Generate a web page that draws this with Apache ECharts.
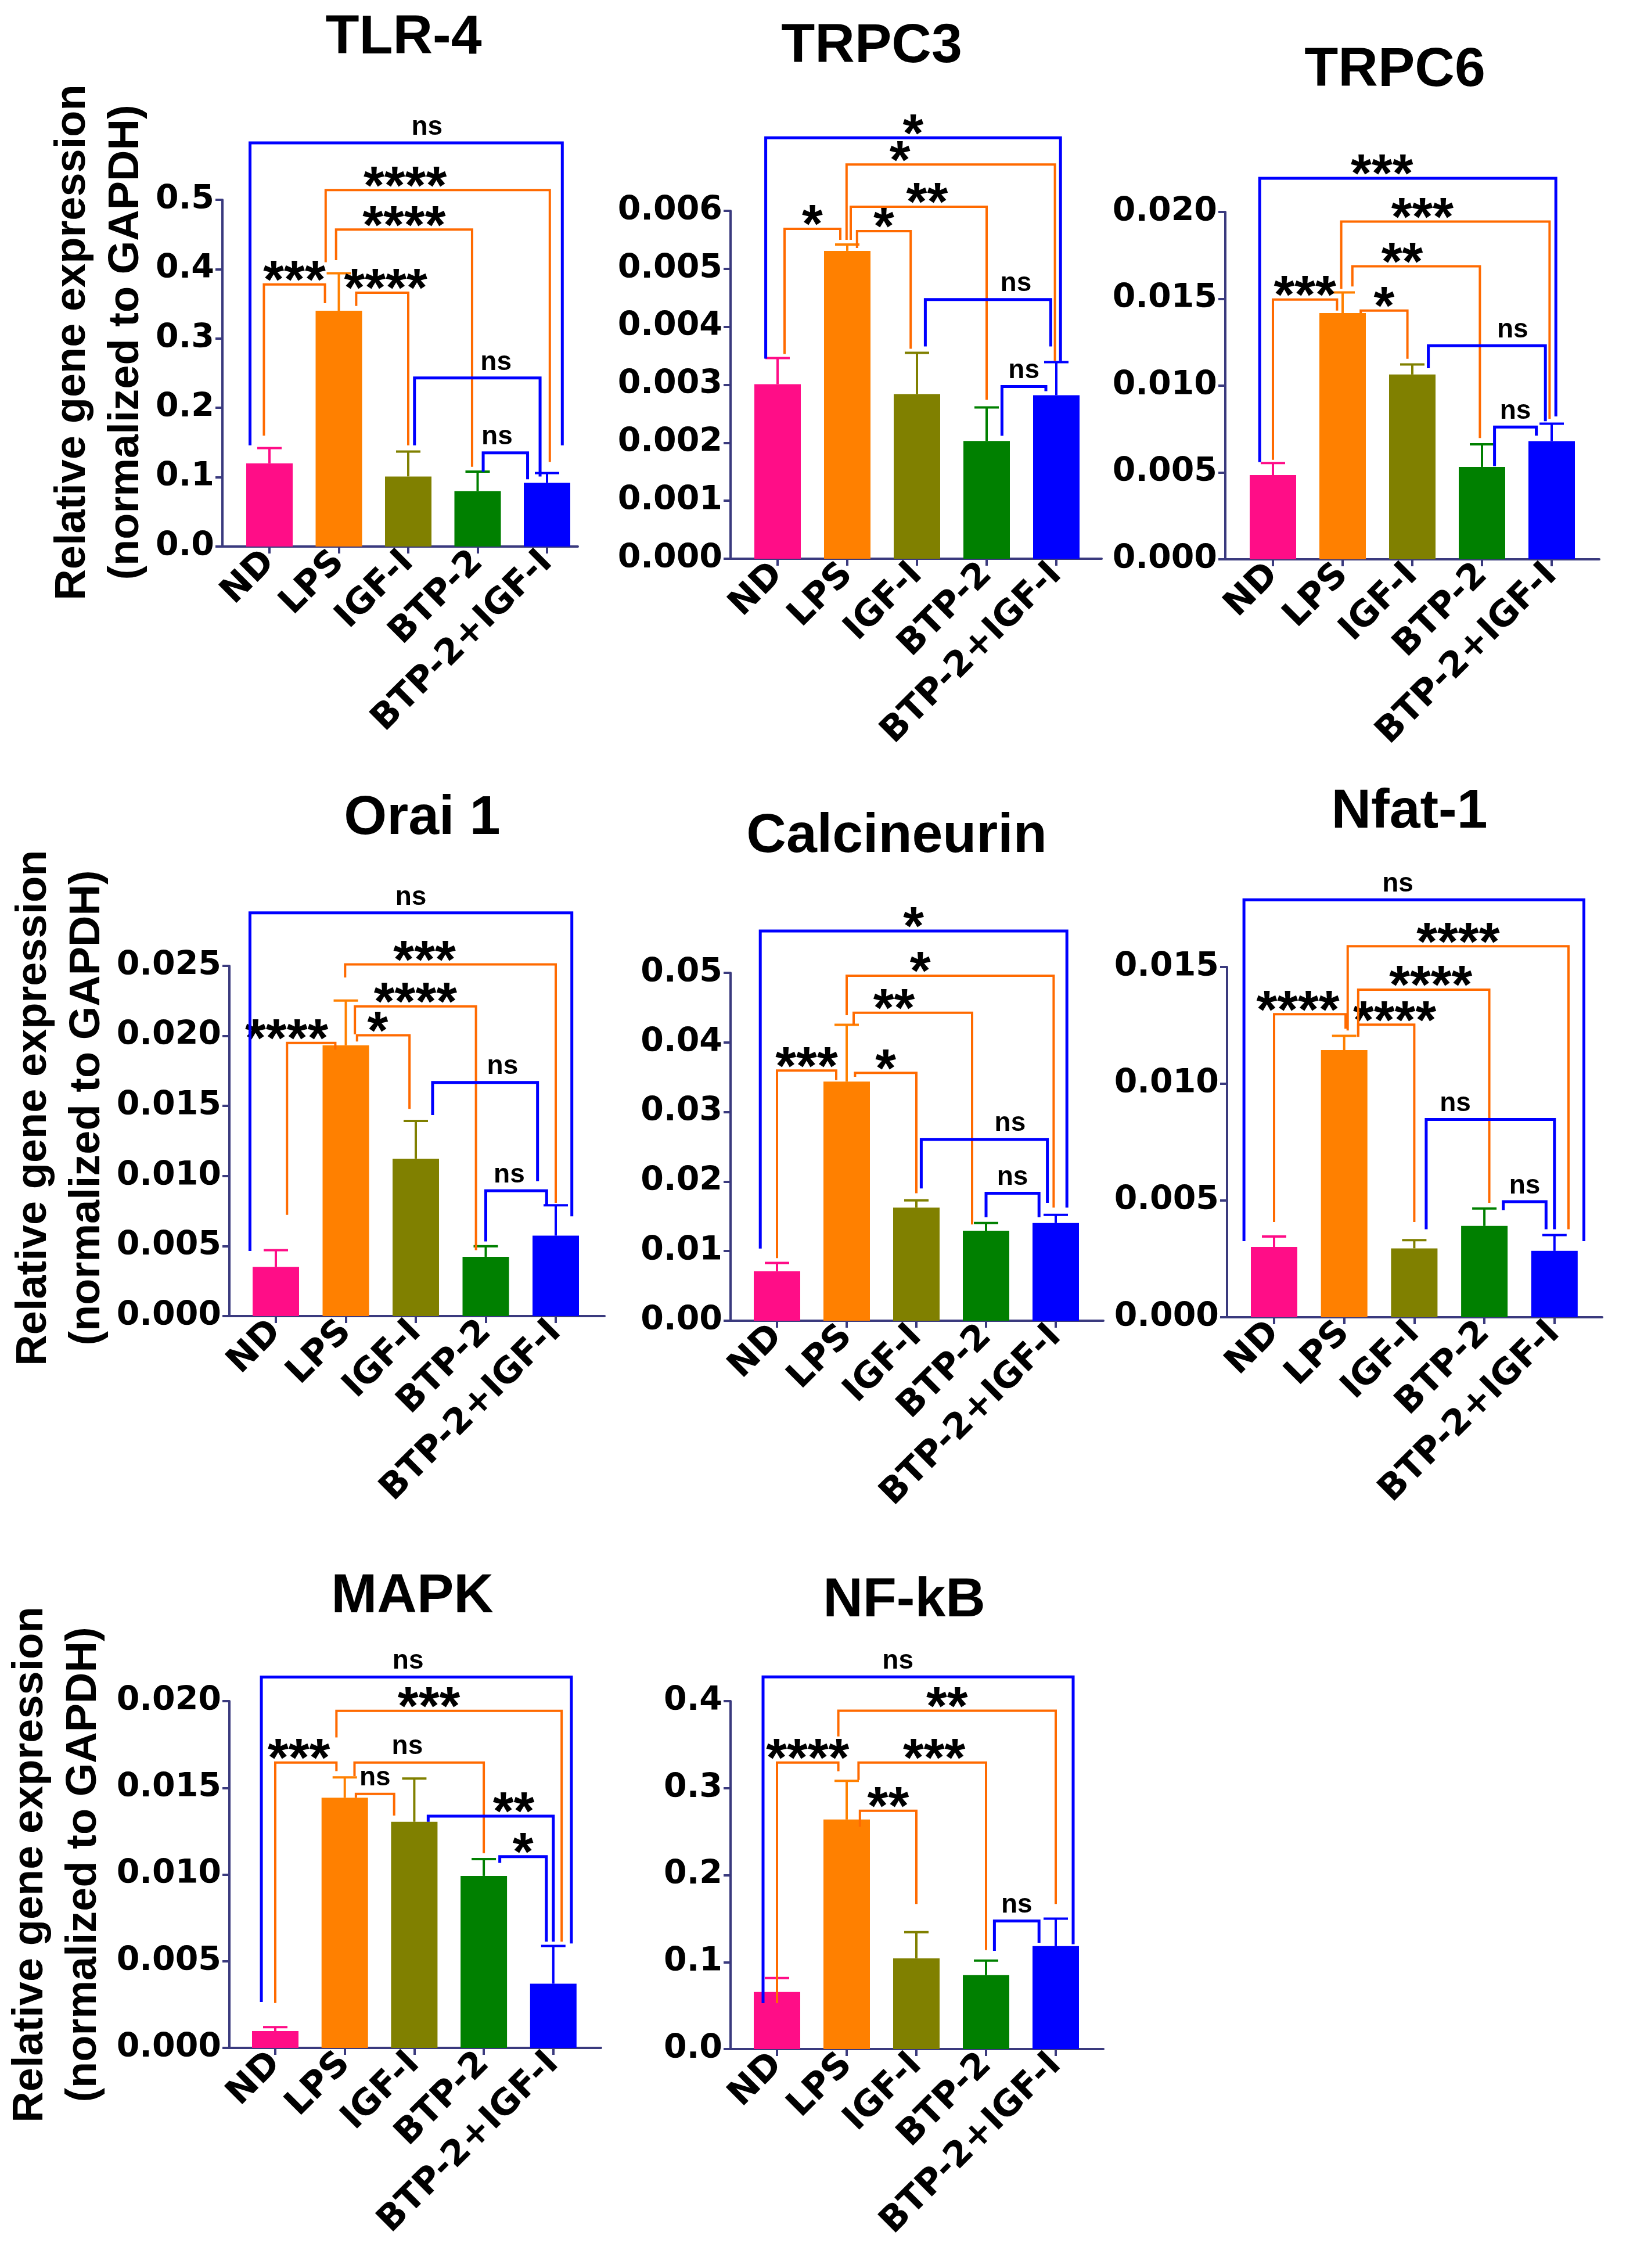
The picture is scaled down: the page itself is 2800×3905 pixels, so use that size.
<!DOCTYPE html>
<html>
<head>
<meta charset="utf-8">
<script src="https://cdn.jsdelivr.net/npm/echarts@6/dist/echarts.min.js"></script>
<style>
  html, body { margin: 0; padding: 0; background: #fff; }
  #chart { width: 2800px; height: 3905px; }
</style>
</head>
<body>
<div id="chart"></div>
<script>
  // groups on the x axis, same for every gene
  var groups = ['ND', 'LPS', 'IGF-I', 'BTP-2', 'BTP-2+IGF-I'];

  // mean and SEM
  var tlr4Mean = [0.120, 0.340, 0.101, 0.080, 0.092];
  var tlr4Sem = [0.022, 0.054, 0.036, 0.028, 0.014];
  var trpc3Mean = [0.00301, 0.00531, 0.00284, 0.00203, 0.00282];
  var trpc3Sem = [0.00045, 0.00011, 0.00071, 0.00058, 0.00057];
  var trpc6Mean = [0.00485, 0.01418, 0.01064, 0.00532, 0.00681];
  var trpc6Sem = [0.00069, 0.00119, 0.00058, 0.00130, 0.00100];
  var orai1Mean = [0.00351, 0.01933, 0.01124, 0.00423, 0.00574];
  var orai1Sem = [0.00120, 0.00319, 0.00269, 0.00076, 0.00217];
  var calcMean = [0.00712, 0.03437, 0.01625, 0.01293, 0.01404];
  var calcSem = [0.00118, 0.00816, 0.00104, 0.00111, 0.00117];
  var nfatMean = [0.00301, 0.01144, 0.00295, 0.00391, 0.00284];
  var nfatSem = [0.00045, 0.00061, 0.00035, 0.00075, 0.00068];
  var mapkMean = [0.00097, 0.01443, 0.01304, 0.00992, 0.00370];
  var mapkSem = [0.00023, 0.00117, 0.00250, 0.00097, 0.00218];
  var nfkbMean = [0.0656, 0.2639, 0.1044, 0.0850, 0.1183];
  var nfkbSem = [0.0161, 0.0444, 0.0300, 0.0167, 0.0317];

  // significance brackets:
  // [groupA, groupB, legShiftA, legShiftB, level, legEndA, legEndB, label, labelShift]
  var tlr4Brackets = [
    [0, 1, -0.08, -0.20, 0.378, 0.160, 0.351, '***', 0],
    [1, 2, 0.25, 0.00, 0.366, 0.347, 0.146, '****', 0.05],
    [1, 3, -0.04, -0.08, 0.457, 0.413, 0.115, '****', 0],
    [1, 4, -0.19, 0.04, 0.514, 0.410, 0.122, '****', -0.47],
    [0, 4, -0.28, 0.22, 0.582, 0.146, 0.146, 'ns', 0.3],
    [2, 4, 0.09, -0.10, 0.243, 0.146, 0.101, 'ns', 0.27],
    [3, 4, 0.08, -0.28, 0.135, 0.108, 0.097, 'ns', -0.12]
  ];
  var trpc3Brackets = [
    [0, 1, 0.10, -0.10, 0.00569, 0.00353, 0.00550, '*', 0],
    [1, 2, 0.14, -0.09, 0.00565, 0.00536, 0.00362, '*', 0],
    [1, 3, 0.05, 0.00, 0.00607, 0.00550, 0.00274, '**', 0.12],
    [1, 4, -0.01, -0.02, 0.00680, 0.00550, 0.00341, '*', -0.73],
    [0, 4, -0.17, 0.06, 0.00726, 0.00345, 0.00341, '*', 0],
    [2, 4, 0.12, -0.08, 0.00447, 0.00366, 0.00366, 'ns', 0.4],
    [3, 4, 0.22, -0.15, 0.00297, 0.00212, 0.00289, 'ns', 0]
  ];
  var trpc6Brackets = [
    [0, 1, 0.00, -0.08, 0.01496, 0.00573, 0.01432, '***', 0],
    [1, 2, 0.26, -0.07, 0.01432, 0.01418, 0.01155, '*', 0],
    [1, 3, 0.14, -0.03, 0.01687, 0.01571, 0.00698, '**', -0.2],
    [1, 4, -0.02, -0.03, 0.01945, 0.01557, 0.00809, '***', -0.33],
    [0, 4, -0.19, 0.06, 0.02194, 0.00560, 0.00823, '***', -0.37],
    [2, 4, 0.23, -0.09, 0.01230, 0.01100, 0.00795, 'ns', 0.37],
    [3, 4, 0.18, -0.22, 0.00762, 0.00537, 0.00712, 'ns', 0]
  ];
  var orai1Brackets = [
    [0, 1, 0.16, -0.15, 0.01950, 0.00722, 0.01902, '****', -0.35],
    [1, 2, 0.16, -0.09, 0.02005, 0.01960, 0.01479, '*', -0.08],
    [1, 3, 0.13, -0.14, 0.02211, 0.02012, 0.00471, '****', 0],
    [1, 4, -0.01, 0.00, 0.02510, 0.02417, 0.00808, '***', -0.37],
    [0, 4, -0.37, 0.23, 0.02878, 0.00464, 0.00712, 'ns', 0],
    [2, 4, 0.24, -0.26, 0.01668, 0.01434, 0.00963, 'ns', 0.25],
    [3, 4, 0.00, -0.13, 0.00894, 0.00533, 0.00791, 'ns', -0.1]
  ];
  var calcBrackets = [
    [0, 1, 0.00, -0.15, 0.03596, 0.00900, 0.03458, '***', 0],
    [1, 2, 0.12, 0.00, 0.03562, 0.03506, 0.01833, '*', 0],
    [1, 3, 0.10, -0.20, 0.04426, 0.04253, 0.01383, '**', -0.27],
    [1, 4, 0.00, -0.03, 0.04959, 0.04391, 0.01625, '*', -0.43],
    [0, 4, -0.24, 0.16, 0.05602, 0.01037, 0.01625, '*', 0],
    [2, 4, 0.07, -0.12, 0.02607, 0.01902, 0.01694, 'ns', 0.37],
    [3, 4, 0.00, -0.24, 0.01833, 0.01487, 0.01487, 'ns', 0]
  ];
  var nfatBrackets = [
    [0, 1, 0.00, 0.02, 0.01298, 0.00408, 0.01236, '****', -0.17],
    [1, 2, 0.20, 0.00, 0.01253, 0.01201, 0.00408, '****', 0.12],
    [1, 3, 0.20, 0.07, 0.01403, 0.01212, 0.00490, '****', 0.1],
    [1, 4, 0.05, 0.20, 0.01589, 0.01228, 0.00377, '****', 0],
    [0, 4, -0.43, 0.42, 0.01788, 0.00326, 0.00326, 'ns', -0.23],
    [2, 4, 0.17, 0.00, 0.00847, 0.00377, 0.00377, 'ns', -0.5],
    [3, 4, 0.27, -0.12, 0.00495, 0.00459, 0.00377, 'ns', 0]
  ];
  var mapkBrackets = [
    [0, 1, 0.00, -0.12, 0.01646, 0.00259, 0.01596, '***', -0.1],
    [1, 2, 0.16, -0.29, 0.01465, 0.01443, 0.01340, 'ns', 0],
    [1, 3, 0.14, 0.00, 0.01646, 0.01568, 0.01123, 'ns', -0.17],
    [1, 4, -0.12, 0.12, 0.01944, 0.01791, 0.00613, '***', -0.29],
    [0, 4, -0.20, 0.26, 0.02139, 0.00265, 0.00602, 'ns', -0.12],
    [2, 4, 0.20, 0.00, 0.01337, 0.01304, 0.00613, '**', 0.33],
    [3, 4, 0.23, -0.10, 0.01103, 0.01067, 0.00613, '*', 0]
  ];
  var nfkbBrackets = [
    [0, 1, 0.00, -0.12, 0.3294, 0.0528, 0.3194, '****', 0],
    [1, 2, 0.19, 0.00, 0.2739, 0.2556, 0.1667, '**', 0],
    [1, 3, 0.17, 0.00, 0.3294, 0.3094, 0.1139, '***', 0.17],
    [1, 4, -0.12, 0.00, 0.3889, 0.3594, 0.1667, '**', 0],
    [0, 4, -0.20, 0.25, 0.4278, 0.0528, 0.1206, 'ns', -0.29],
    [3, 4, 0.12, -0.24, 0.1472, 0.1128, 0.1222, 'ns', 0]
  ];

  var groupColors = ['#ff0d87', '#ff8000', '#808000', '#008000', '#0000ff'];
  var axisColor = '#3a3a7e';
  var lpsLine = '#ff6a00';
  var otherLine = '#0000ff';
  var yTitle = 'Relative gene expression\n(normalized to GAPDH)';

  // panel layout in page pixels: y axis x, top (= yMax), bottom (= 0), first bar centre, bar pitch, x axis end
  var panels = [
    {name: 'TLR-4', mean: tlr4Mean, sem: tlr4Sem, br: tlr4Brackets, yMax: 0.5, yStep: 0.1, dec: 1,
      ax: 383, top: 344, bottom: 941, c0: 464, pitch: 119.5, end: 995, tx: 695, ty: 68, gap: 119, shift: 106},
    {name: 'TRPC3', mean: trpc3Mean, sem: trpc3Sem, br: trpc3Brackets, yMax: 0.006, yStep: 0.001, dec: 3,
      ax: 1258, top: 363, bottom: 962, c0: 1339, pitch: 120, end: 1897, tx: 1501, ty: 83},
    {name: 'TRPC6', mean: trpc6Mean, sem: trpc6Sem, br: trpc6Brackets, yMax: 0.02, yStep: 0.005, dec: 3,
      ax: 2110, top: 365, bottom: 963, c0: 2192, pitch: 120, end: 2754, tx: 2402, ty: 124},
    {name: 'Orai 1', mean: orai1Mean, sem: orai1Sem, br: orai1Brackets, yMax: 0.025, yStep: 0.005, dec: 3,
      ax: 395, top: 1663, bottom: 2266, c0: 475, pitch: 120.5, end: 1041, tx: 727, ty: 1412, gap: 194, shift: 114},
    {name: 'Calcineurin', mean: calcMean, sem: calcSem, br: calcBrackets, yMax: 0.05, yStep: 0.01, dec: 2,
      ax: 1258, top: 1675, bottom: 2274, c0: 1338, pitch: 120, end: 1900, tx: 1544, ty: 1443},
    {name: 'Nfat-1', mean: nfatMean, sem: nfatSem, br: nfatBrackets, yMax: 0.015, yStep: 0.005, dec: 3,
      ax: 2113, top: 1665, bottom: 2268, c0: 2194, pitch: 120.7, end: 2759, tx: 2427, ty: 1401},
    {name: 'MAPK', mean: mapkMean, sem: mapkSem, br: mapkBrackets, yMax: 0.02, yStep: 0.005, dec: 3,
      ax: 395, top: 2929, bottom: 3526, c0: 474, pitch: 119.7, end: 1035, tx: 710, ty: 2752, gap: 204, shift: 34},
    {name: 'NF-kB', mean: nfkbMean, sem: nfkbSem, br: nfkbBrackets, yMax: 0.4, yStep: 0.1, dec: 1,
      ax: 1258, top: 2929, bottom: 3528, c0: 1338, pitch: 120, end: 1900, tx: 1557, ty: 2759}
  ];

  var chart = echarts.init(document.getElementById('chart'));
  var option = {
    animation: false,
    backgroundColor: '#ffffff',
    title: [], grid: [], xAxis: [], yAxis: [], series: []
  };

  panels.forEach(function (p, k) {
    option.title.push({
      text: p.name, left: p.tx, top: p.ty - 50, textAlign: 'center', padding: 0,
      textStyle: {fontFamily: 'Liberation Sans', fontWeight: 'bold', fontSize: 95, color: '#000'}
    });
    option.grid.push({left: p.ax, top: p.top, width: p.end - p.ax, height: p.bottom - p.top});
    option.xAxis.push({
      type: 'value', gridIndex: k,
      min: -(p.c0 - p.ax) / p.pitch, max: (p.end - p.c0) / p.pitch,
      splitLine: {show: false},
      axisLine: {onZero: false, lineStyle: {color: axisColor, width: 4}},
      axisTick: {customValues: [0, 1, 2, 3, 4], length: 12, lineStyle: {color: axisColor, width: 4}},
      axisLabel: {
        customValues: [0, 1, 2, 3, 4], rotate: 45, margin: 18,
        formatter: function (v) { return groups[Math.round(v)]; },
        fontFamily: 'DejaVu Sans', fontWeight: 'bold', fontSize: 61, color: '#000'
      }
    });
    option.yAxis.push({
      type: 'value', gridIndex: k, min: 0, max: p.yMax, interval: p.yStep,
      splitLine: {show: false},
      axisLine: {show: true, onZero: false, lineStyle: {color: axisColor, width: 4}},
      axisTick: {show: true, length: 12, lineStyle: {color: axisColor, width: 4}},
      axisLabel: {
        margin: 14, color: '#000', fontFamily: 'DejaVu Sans', fontWeight: 'bold', fontSize: 57,
        formatter: function (v) { return v.toFixed(p.dec); }
      },
      name: p.gap ? yTitle : '',
      nameLocation: 'middle', nameRotate: 90, nameGap: p.gap || 0,
      nameTextStyle: {
        fontFamily: 'Liberation Sans', fontWeight: 'bold', fontSize: 74, lineHeight: 92, color: '#000',
        padding: [0, 0, 0, p.shift || 0]
      }
    });

    // bars
    option.series.push({
      type: 'bar', xAxisIndex: k, yAxisIndex: k, barWidth: 80,
      data: p.mean.map(function (v, i) {
        return {value: [i, v], itemStyle: {color: groupColors[i]}};
      })
    });

    // SEM whiskers, upper side only
    option.series.push({
      type: 'custom', xAxisIndex: k, yAxisIndex: k, z: 3,
      data: p.mean.map(function (v, i) { return [i, v, v + p.sem[i]]; }),
      renderItem: function (params, api) {
        var base = api.coord([api.value(0), api.value(1)]);
        var tip = api.coord([api.value(0), api.value(2)]);
        var c = groupColors[params.dataIndex];
        return {type: 'group', children: [
          {type: 'line', shape: {x1: base[0], y1: base[1], x2: tip[0], y2: tip[1]}, style: {stroke: c, lineWidth: 4}},
          {type: 'line', shape: {x1: tip[0] - 21, y1: tip[1], x2: tip[0] + 21, y2: tip[1]}, style: {stroke: c, lineWidth: 4}}
        ]};
      }
    });

    // significance brackets
    option.series.push({
      type: 'custom', xAxisIndex: k, yAxisIndex: k, z: 4, clip: false,
      data: p.br.map(function (b) { return [b[0] + b[2], b[4]]; }),
      renderItem: function (params, api) {
        var b = p.br[params.dataIndex];
        var xa = b[0] + b[2], xb = b[1] + b[3];
        var a0 = api.coord([xa, b[5]]), a1 = api.coord([xa, b[4]]);
        var b1 = api.coord([xb, b[4]]), b0 = api.coord([xb, b[6]]);
        var mid = api.coord([(xa + xb) / 2 + b[8], b[4]]);
        var lps = (b[0] === 1 || b[1] === 1);
        var ns = b[7] === 'ns';
        return {type: 'group', children: [
          {type: 'polyline', shape: {points: [a0, a1, b1, b0]},
            style: {stroke: lps ? lpsLine : otherLine, lineWidth: lps ? 4 : 5, fill: null}},
          {type: 'text', x: mid[0], y: mid[1] + (ns ? -4 : -2),
            style: {
              text: b[7], fill: '#000', align: 'center', verticalAlign: ns ? 'bottom' : 'middle',
              fontFamily: 'Liberation Sans', fontWeight: 'bold', fontSize: ns ? 46 : 92
            }}
        ]};
      }
    });
  });

  chart.setOption(option);
</script>
</body>
</html>
